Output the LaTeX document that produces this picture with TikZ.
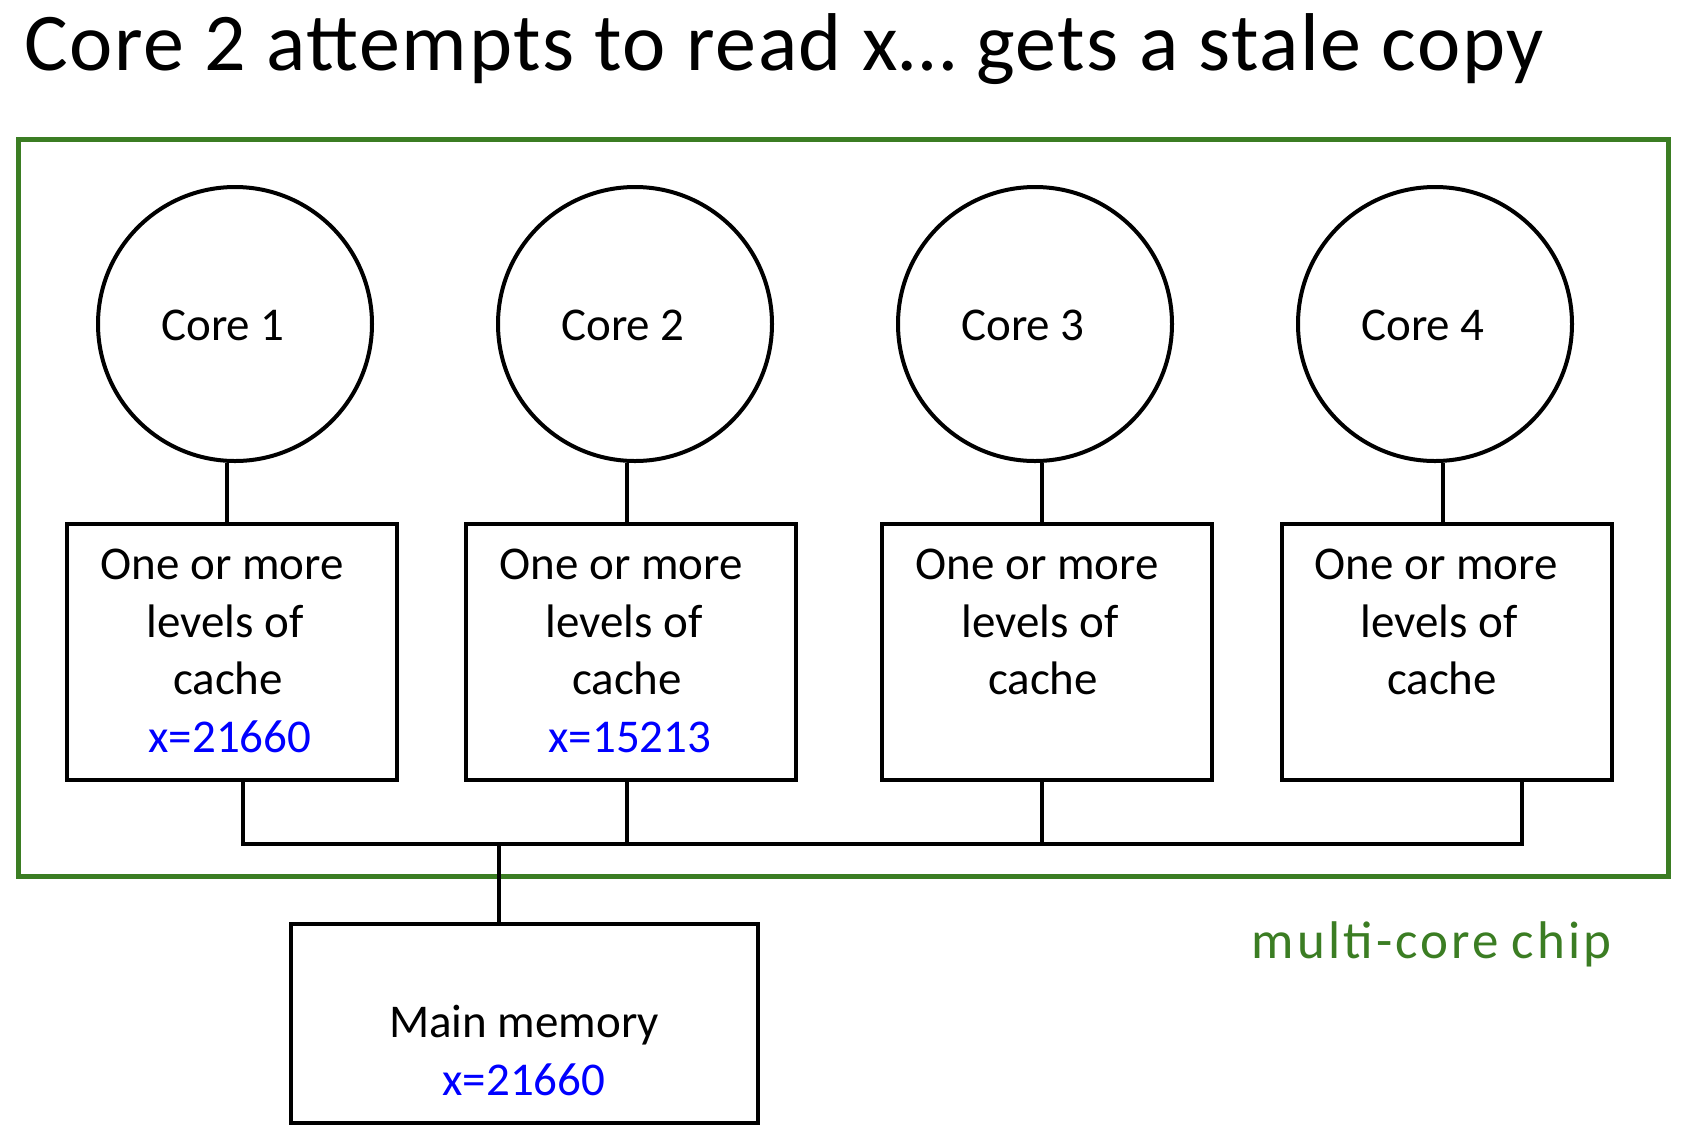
\documentclass[tikz,border=0pt]{standalone}
\usepackage{fontspec}
\setmainfont{Carlito}
\newfontfamily\titlefont[LetterSpace=2]{Carlito}
\newfontfamily\chipfont[LetterSpace=6]{Carlito}
\definecolor{chipgreen}{RGB}{59,125,35}
\definecolor{valblue}{RGB}{0,0,255}
\begin{document}
\begin{tikzpicture}[x=0.5pt,y=-0.5pt,
 core/.style={circle,draw,line width=2pt,minimum size=137pt,inner sep=0pt},
 cachebox/.style={draw,line width=2pt,minimum width=165pt,minimum height=128pt,inner sep=0pt},
 membox/.style={draw,line width=2pt,minimum width=233.5pt,minimum height=99.5pt,inner sep=0pt},
 txt/.style={font=\fontsize{23.5}{28}\selectfont,anchor=base,inner sep=0pt},
 val/.style={txt,text=valblue},
 wire/.style={line width=2pt}]
\useasboundingbox (0,0) rectangle (1688,1142);

% title
\node[anchor=base west,inner sep=0pt,font=\titlefont\fontsize{41}{49}\selectfont] (title) at (24,70) {Core 2 attempts to read x… gets a stale copy};

% chip outline
\node[draw=chipgreen,line width=2.5pt,minimum width=825pt,minimum height=368.5pt,inner sep=0pt] (chip) at (843,507.5) {};
\node[anchor=base east,inner sep=0pt,text=chipgreen,font=\chipfont\fontsize{26.5}{32}\selectfont] (chiplabel) at (1612,958) {multi-core\hspace{-0.05em} chip};

% cores
\node[core] (c1) at (235,324) {};
\node[core] (c2) at (635,324) {};
\node[core] (c3) at (1035,324) {};
\node[core] (c4) at (1435,324) {};
\node[txt] (t1) at (223,340) {Core 1};
\node[txt] (t2) at (623,340) {Core 2};
\node[txt] (t3) at (1023,340) {Core 3};
\node[txt] (t4) at (1423,340) {Core 4};

% caches
\node[cachebox] (b1) at (232,652) {};
\node[cachebox] (b2) at (631,652) {};
\node[cachebox] (b3) at (1047,652) {};
\node[cachebox] (b4) at (1446.5,652) {};

\node[txt] (l1a) at (222,579) {One or more};
\node[txt] (l1b) at (225,637) {levels of};
\node[txt] (l1c) at (228,694) {cache};
\node[val] (l1d) at (230,752) {x=21660};

\node[txt] (l2a) at (621,579) {One or more};
\node[txt] (l2b) at (624,637) {levels of};
\node[txt] (l2c) at (627,694) {cache};
\node[val] (l2d) at (630,752) {x=15213};

\node[txt] (l3a) at (1037,579) {One or more};
\node[txt] (l3b) at (1040,637) {levels of};
\node[txt] (l3c) at (1043,694) {cache};

\node[txt] (l4a) at (1436,579) {One or more};
\node[txt] (l4b) at (1439,637) {levels of};
\node[txt] (l4c) at (1442,694) {cache};

% main memory
\node[membox] (mem) at (524.5,1023.5) {};
\node[txt] (m1) at (524,1037) {Main memory};
\node[val] (m2) at (524,1095) {x=21660};

% connector x positions
\coordinate (u1) at (227,0);
\coordinate (u2) at (627,0);
\coordinate (u3) at (1042,0);
\coordinate (u4) at (1443,0);
\coordinate (busL) at (243,844);
\coordinate (bus2) at (627,844);
\coordinate (bus3) at (1042,844);
\coordinate (busR) at (1522,844);
\coordinate (busM) at (499,844);

% core to cache
\draw[wire] (c1.south -| u1) -- (b1.north -| u1);
\draw[wire] (c2.south -| u2) -- (b2.north -| u2);
\draw[wire] (c3.south -| u3) -- (b3.north -| u3);
\draw[wire] (c4.south -| u4) -- (b4.north -| u4);

% cache to bus
\draw[wire] (b1.south -| busL) -- (busL) -- (busR) -- (b4.south -| busR);
\draw[wire] (b2.south -| bus2) -- (bus2);
\draw[wire] (b3.south -| bus3) -- (bus3);
\draw[wire] (busM) -- (mem.north -| busM);
\end{tikzpicture}
\end{document}
